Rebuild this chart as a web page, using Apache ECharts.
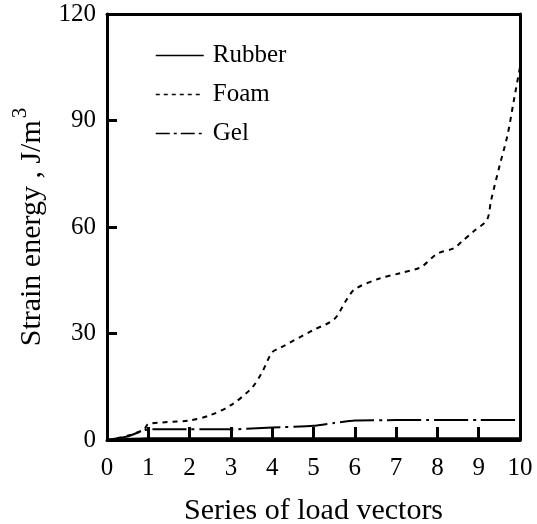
<!DOCTYPE html>
<html>
<head>
<meta charset="utf-8">
<script src="https://cdn.jsdelivr.net/npm/echarts@6/dist/echarts.min.js"></script>
<style>
  html, body { margin: 0; padding: 0; background: #fff; }
  #chart { width: 537px; height: 524px; }
</style>
</head>
<body>
<div id="chart"></div>
<script>
// values
const xRange = [0, 10];
const yRange = [0, 120];

const rubberX = [0, 0.5, 1, 2, 3, 4, 5, 6, 7, 8, 9, 10];
const rubberY = [0, 0.3, 0.5, 0.5, 0.5, 0.5, 0.5, 0.5, 0.5, 0.5, 0.5, 0.5];

const foamX = [0, 0.5, 0.9, 1, 2, 2.5, 3, 3.5, 3.75, 4, 4.2, 5, 5.5, 5.8, 6, 6.6, 7.1, 7.6, 8, 8.4, 8.6, 8.9, 9.2, 9.3, 9.5, 9.7, 9.85, 10];
const foamY = [0, 1.2, 3, 4.5, 5.5, 7, 9.8, 14.6, 19, 24.7, 26, 31, 34, 39.5, 42.5, 45.5, 47, 48.7, 52.5, 54, 56, 59, 62, 67.5, 77, 86, 95.6, 105];

const gelX = [0, 0.5, 1, 2, 3, 4, 5, 5.5, 6, 7, 8, 9, 10];
const gelY = [0, 1, 3, 3, 3, 3.5, 4, 4.8, 5.5, 5.6, 5.6, 5.6, 5.6];

const pairs = (xs, ys) => xs.map((x, i) => [x, ys[i]]);

const serif = 'Liberation Serif';
const chart = echarts.init(document.getElementById('chart'));

const noMark = { color: 'transparent', borderWidth: 0 };
const frameLine = { show: true, onZero: false, lineStyle: { color: '#000', width: 3 } };

const option = {
  animation: false,
  grid: {
    left: 107, right: 17, top: 14, bottom: 84,
    outerBoundsMode: 'none'
  },
  legend: {
    orient: 'vertical',
    left: 150, top: 38,
    itemWidth: 48, itemHeight: 14, itemGap: 14,
    textStyle: { fontFamily: serif, fontSize: 25, color: '#000', padding: [0, 0, 0, 4] },
    data: [
      { name: 'Rubber', itemStyle: noMark, lineStyle: { type: 'solid', width: 1.5 } },
      { name: 'Foam', itemStyle: noMark, lineStyle: { type: [4, 4], width: 1.5 } },
      { name: 'Gel', itemStyle: noMark, lineStyle: { type: [14, 4, 3, 4], width: 1.5 } }
    ]
  },
  xAxis: [{
    type: 'value',
    min: xRange[0], max: xRange[1], interval: 1,
    name: 'Series of load vectors',
    nameLocation: 'middle',
    nameGap: 56,
    nameTextStyle: { fontFamily: serif, fontSize: 30, color: '#000' },
    axisLine: frameLine,
    axisTick: { show: true, inside: true, length: 13, lineStyle: { color: '#000', width: 3 } },
    axisLabel: { margin: 16, fontFamily: serif, fontSize: 25, color: '#000' },
    splitLine: { show: false }
  }, {
    type: 'value', position: 'top',
    min: xRange[0], max: xRange[1],
    axisLine: frameLine,
    axisTick: { show: false }, axisLabel: { show: false }, splitLine: { show: false }
  }, {
    // tick-only helper on the bottom edge
    type: 'value', position: 'bottom',
    min: xRange[0], max: xRange[1], interval: 1,
    axisLine: { show: false, onZero: false },
    axisTick: { show: true, inside: true, length: 13, lineStyle: { color: '#000', width: 3 } },
    axisLabel: { show: false }, splitLine: { show: false }
  }],
  yAxis: [{
    type: 'value',
    min: yRange[0], max: yRange[1], interval: 30,
    name: '{a|Strain energy , J/m}{b|3}',
    nameLocation: 'middle',
    nameGap: 47,
    nameRotate: 90,
    nameTextStyle: {
      fontFamily: serif, fontSize: 30, color: '#000',
      rich: {
        a: { fontFamily: serif, fontSize: 30, color: '#000' },
        b: { fontFamily: serif, fontSize: 21, color: '#000', padding: [0, 0, 24, 2] }
      }
    },
    axisLine: frameLine,
    axisTick: { show: true, inside: true, length: 10, lineStyle: { color: '#000', width: 3 } },
    axisLabel: { margin: 11, fontFamily: serif, fontSize: 25, color: '#000' },
    splitLine: { show: false }
  }, {
    type: 'value', position: 'right',
    min: yRange[0], max: yRange[1],
    axisLine: frameLine,
    axisTick: { show: false }, axisLabel: { show: false }, splitLine: { show: false }
  }, {
    // tick-only helper on the left edge
    type: 'value', position: 'left',
    min: yRange[0], max: yRange[1], interval: 30,
    axisLine: { show: false, onZero: false },
    axisTick: { show: true, inside: true, length: 10, lineStyle: { color: '#000', width: 3 } },
    axisLabel: { show: false }, splitLine: { show: false }
  }],
  series: [
    {
      name: 'Rubber', type: 'line', data: pairs(rubberX, rubberY),
      symbol: 'none', showSymbol: false, smooth: 0.3,
      lineStyle: { color: '#000', width: 2, type: 'solid' },
      itemStyle: { color: '#000' }
    },
    {
      name: 'Foam', type: 'line', data: pairs(foamX, foamY),
      symbol: 'none', showSymbol: false, smooth: 0.3,
      lineStyle: { color: '#000', width: 2, type: [5, 5] },
      itemStyle: { color: '#000' }
    },
    {
      name: 'Gel', type: 'line', data: pairs(gelX, gelY),
      symbol: 'none', showSymbol: false, smooth: 0.2,
      lineStyle: { color: '#000', width: 2, type: [34, 5, 3, 5] },
      itemStyle: { color: '#000' }
    }
  ]
};

chart.setOption(option);
</script>
</body>
</html>
